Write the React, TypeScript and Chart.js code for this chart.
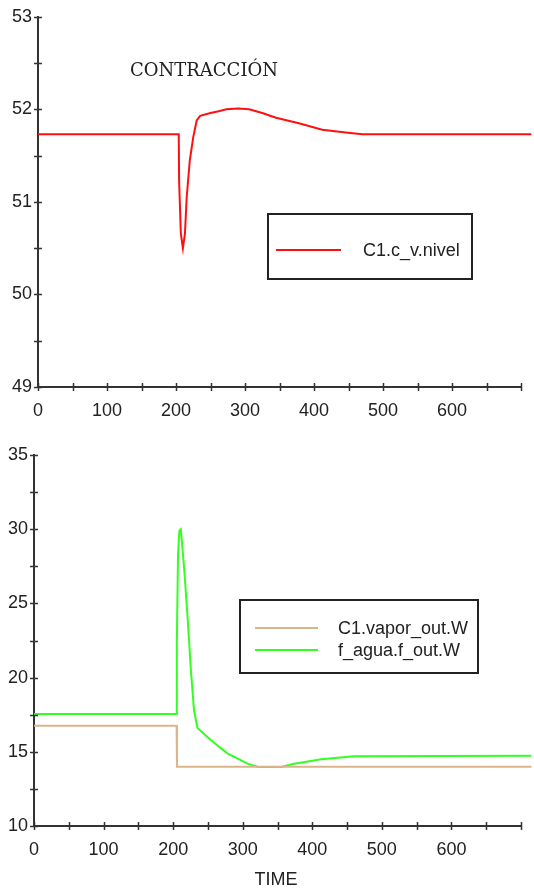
import React, { useEffect, useRef } from "react";
import { Chart, registerables } from "chart.js";

Chart.register(...registerables);

// ---------- data ----------
const nivelTime = [0, 204, 204.5, 207, 210, 213, 215.5, 220, 225, 230, 235, 250, 262, 273, 290, 306, 325, 345, 378, 412, 446, 470, 715];
const nivelValue = [51.73, 51.73, 51.23, 50.66, 50.5, 50.66, 51.05, 51.45, 51.7, 51.88, 51.93, 51.96, 51.98, 52.0, 52.01, 52.0, 51.96, 51.91, 51.85, 51.78, 51.75, 51.73, 51.73];

const vaporTime = [0, 205, 205.5, 715];
const vaporValue = [16.75, 16.75, 14.0, 14.0];

const aguaTime = [0, 205, 205.3, 207, 209, 211, 212, 216, 221, 225.5, 230, 235, 254, 278, 307, 322, 355, 374, 413, 460, 715];
const aguaValue = [17.55, 17.55, 22.3, 28.3, 29.9, 30.0, 29.5, 27.25, 23.9, 20.5, 17.8, 16.6, 15.8, 14.9, 14.2, 13.98, 13.98, 14.2, 14.5, 14.7, 14.74];

const xTickLabels = [0, 100, 200, 300, 400, 500, 600];
const topYLabels = [49, 50, 51, 52, 53];
const bottomYLabels = [10, 15, 20, 25, 30, 35];

const topTitle = "CONTRACCIÓN";
const xTitle = "TIME";
const topLegend = ["C1.c_v.nivel"];
const bottomLegend = ["C1.vapor_out.W", "f_agua.f_out.W"];

const RED = "#ff1010";
const TAN = "#dcb48c";
const GREEN = "#33ff22";
const AXIS = "#333333";
const TXT = "#222222";
const FONT_FAMILY = '"Liberation Sans Narrow", "Arial Narrow", "Liberation Sans", Arial, sans-serif';

const toPoints = (xs: number[], ys: number[]) => xs.map((x, i) => ({ x, y: ys[i] }));

// draws "+"-style tick marks crossing each axis
const crossTicks = {
  id: "crossTicks",
  afterDraw(chart: any) {
    const { ctx, chartArea, scales } = chart;
    ctx.save();
    ctx.strokeStyle = AXIS;
    ctx.lineWidth = 1.5;
    const xs = scales.x;
    xs.ticks.forEach((t: any) => {
      const px = Math.round(xs.getPixelForValue(t.value)) + 0.5;
      ctx.beginPath();
      ctx.moveTo(px, chartArea.bottom - 4);
      ctx.lineTo(px, chartArea.bottom + 4);
      ctx.stroke();
    });
    const ys = scales.y;
    ys.ticks.forEach((t: any) => {
      const py = Math.round(ys.getPixelForValue(t.value)) + 0.5;
      ctx.beginPath();
      ctx.moveTo(chartArea.left - 4, py);
      ctx.lineTo(chartArea.left + 4, py);
      ctx.stroke();
    });
    ctx.restore();
  },
};

// custom legend box + annotations
const overlay = {
  id: "overlay",
  afterDraw(chart: any, _args: any, opts: any) {
    const { ctx } = chart;
    ctx.save();
    if (opts.box) {
      const b = opts.box;
      ctx.strokeStyle = "#222";
      ctx.lineWidth = 2;
      ctx.strokeRect(b.x, b.y, b.w, b.h);
      ctx.font = `18px ${FONT_FAMILY}`;
      ctx.textBaseline = "middle";
      ctx.textAlign = "left";
      opts.items.forEach((it: any, i: number) => {
        const y = b.rowY[i];
        ctx.strokeStyle = chart.data.datasets[i].borderColor;
        ctx.lineWidth = 2;
        ctx.beginPath();
        ctx.moveTo(b.lineX0, y);
        ctx.lineTo(b.lineX1, y);
        ctx.stroke();
        ctx.fillStyle = TXT;
        ctx.fillText(it, b.textX, y + 1);
      });
    }
    if (opts.title) {
      const t = opts.title;
      ctx.font = t.font;
      ctx.fillStyle = TXT;
      ctx.textAlign = t.align;
      ctx.textBaseline = "middle";
      if ("letterSpacing" in ctx) (ctx as any).letterSpacing = t.spacing || "0px";
      ctx.fillText(t.text, t.x, t.y);
    }
    ctx.restore();
  },
};

function makeConfig(opts: {
  datasets: any[];
  yMin: number;
  yMax: number;
  yStep: number;
  yLabels: number[];
  yWidth: number;
  xHeight: number;
  padTop: number;
  padRight: number;
  overlayOpts: any;
}) {
  const font = { family: FONT_FAMILY, size: 18 };
  return {
    type: "line",
    data: { datasets: opts.datasets },
    options: {
      animation: false,
      responsive: false,
      events: [],
      layout: { padding: { top: opts.padTop, right: opts.padRight, left: 0, bottom: 0 } },
      elements: { point: { radius: 0 }, line: { tension: 0, borderWidth: 2 } },
      plugins: {
        legend: { display: false },
        tooltip: { enabled: false },
        overlay: opts.overlayOpts,
      },
      scales: {
        x: {
          type: "linear",
          min: 0,
          max: 700,
          ticks: {
            stepSize: 50,
            autoSkip: false,
            maxRotation: 0,
            font,
            color: TXT,
            padding: 13,
            callback: (v: number) => (xTickLabels.includes(v) ? String(v) : ""),
          },
          grid: { display: false, drawTicks: false },
          border: { display: true, color: AXIS, width: 2 },
          afterFit: (s: any) => {
            s.height = opts.xHeight;
          },
        },
        y: {
          type: "linear",
          min: opts.yMin,
          max: opts.yMax,
          ticks: {
            stepSize: opts.yStep,
            autoSkip: false,
            font,
            color: TXT,
            padding: 6,
            callback: (v: number) => (opts.yLabels.includes(v) ? String(v) : ""),
          },
          grid: { display: false, drawTicks: false },
          border: { display: true, color: AXIS, width: 2 },
          afterFit: (s: any) => {
            s.width = opts.yWidth;
          },
        },
      },
    },
    plugins: [crossTicks, overlay],
  } as any;
}

function TopChart() {
  const ref = useRef<HTMLCanvasElement>(null);
  useEffect(() => {
    const chart = new Chart(
      ref.current!,
      makeConfig({
        datasets: [
          {
            label: topLegend[0],
            data: toPoints(nivelTime, nivelValue),
            borderColor: RED,
            borderWidth: 2,
            clip: false,
          },
        ],
        yMin: 49,
        yMax: 53,
        yStep: 0.5,
        yLabels: topYLabels,
        yWidth: 38,
        xHeight: 33,
        padTop: 16,
        padRight: 11,
        overlayOpts: {
          box: { x: 268, y: 214, w: 204, h: 65, lineX0: 276, lineX1: 341, textX: 363, rowY: [250] },
          items: topLegend,
          title: { text: topTitle, x: 130, y: 71, align: "left", font: '18px "DejaVu Serif", serif', spacing: "0px" },
        },
      })
    );
    return () => chart.destroy();
  }, []);
  return <canvas ref={ref} width={534} height={420} style={{ display: "block" }} />;
}

function BottomChart() {
  const ref = useRef<HTMLCanvasElement>(null);
  useEffect(() => {
    const chart = new Chart(
      ref.current!,
      makeConfig({
        datasets: [
          {
            label: bottomLegend[0],
            data: toPoints(vaporTime, vaporValue),
            borderColor: TAN,
            borderWidth: 2,
            clip: false,
          },
          {
            label: bottomLegend[1],
            data: toPoints(aguaTime, aguaValue),
            borderColor: GREEN,
            borderWidth: 2,
            clip: false,
          },
        ],
        yMin: 10,
        yMax: 35,
        yStep: 2.5,
        yLabels: bottomYLabels,
        yWidth: 34,
        xHeight: 64,
        padTop: 35,
        padRight: 12,
        overlayOpts: {
          box: { x: 240, y: 180, w: 238, h: 73, lineX0: 255, lineX1: 318, textX: 338, rowY: [208, 230] },
          items: bottomLegend,
          title: { text: xTitle, x: 276, y: 460, align: "center", font: `18px ${FONT_FAMILY}` },
        },
      })
    );
    return () => chart.destroy();
  }, []);
  return <canvas ref={ref} width={534} height={470} style={{ display: "block" }} />;
}

export default function App() {
  return (
    <div style={{ position: "absolute", left: 0, top: 0, width: 534, height: 890, background: "#fff" }}>
      <TopChart />
      <BottomChart />
    </div>
  );
}
